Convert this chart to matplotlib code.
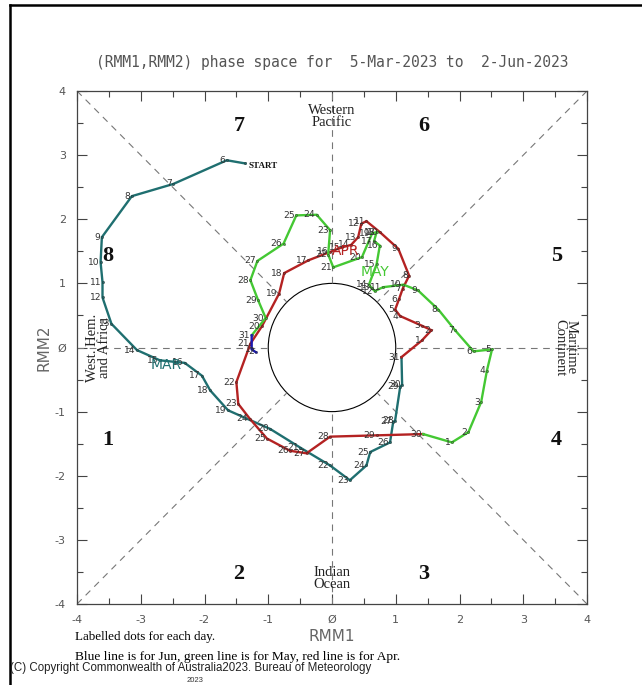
import matplotlib
matplotlib.use("Agg")
import matplotlib.pyplot as plt
from matplotlib.patches import Circle
import numpy as np

# ---- data (RMM1, RMM2) ----
mar_days = list(range(5, 32))
mar_rmm1 = [-1.36, -1.65, -2.49, -3.14, -3.61, -3.63, -3.60, -3.60, -3.46, -3.06,
            -2.70, -2.31, -2.04, -1.91, -1.63, -0.97, -0.50, -0.03, 0.28, 0.54,
            0.60, 0.91, 0.96, 0.99, 1.07, 1.10, 1.09]
mar_rmm2 = [2.87, 2.92, 2.55, 2.36, 1.72, 1.33, 1.02, 0.78, 0.37, -0.04,
            -0.20, -0.24, -0.44, -0.67, -0.98, -1.27, -1.56, -1.84, -2.07, -1.84,
            -1.63, -1.48, -1.16, -1.14, -0.61, -0.58, -0.15]

apr_days = list(range(1, 31))
apr_rmm1 = [1.41, 1.56, 1.41, 1.07, 0.99, 1.05, 1.11, 1.21, 1.04, 0.75,
            0.54, 0.46, 0.41, 0.30, 0.15, -0.03, -0.37, -0.75, -0.83, -1.10,
            -1.28, -1.50, -1.47, -1.29, -1.02, -0.66, -0.40, -0.03, 0.70, 1.43]
apr_rmm2 = [0.11, 0.27, 0.34, 0.49, 0.59, 0.75, 0.92, 1.12, 1.54, 1.80,
            1.97, 1.93, 1.72, 1.60, 1.56, 1.49, 1.36, 1.16, 0.84, 0.33,
            0.06, -0.54, -0.88, -1.11, -1.42, -1.61, -1.65, -1.39, -1.37, -1.35]

may_days = list(range(1, 32))
may_rmm1 = [1.88, 2.14, 2.34, 2.43, 2.51, 2.22, 1.93, 1.67, 1.35, 1.12,
            0.80, 0.67, 0.62, 0.58, 0.70, 0.75, 0.66, 0.70, 0.63, 0.47,
            0.02, -0.06, -0.03, -0.24, -0.56, -0.76, -1.17, -1.28, -1.16, -1.04,
            -1.26]
may_rmm2 = [-1.48, -1.32, -0.85, -0.36, -0.03, -0.06, 0.27, 0.59, 0.89, 0.98,
            0.94, 0.88, 0.93, 0.98, 1.30, 1.59, 1.66, 1.80, 1.78, 1.41,
            1.25, 1.45, 1.83, 2.07, 2.06, 1.62, 1.35, 1.05, 0.74, 0.46,
            0.19]

jun_days = [1, 2]
jun_rmm1 = [-1.26, -1.20]
jun_rmm2 = [-0.03, -0.07]

phase_nums = ["1", "2", "3", "4", "5", "6", "7", "8"]
phase_x = [-3.52, -1.46, 1.44, 3.52, 3.52, 1.44, -1.46, -3.52]
phase_y = [-1.45, -3.53, -3.53, -1.45, 1.43, 3.46, 3.46, 1.43]

ticks = [-4, -3, -2, -1, 0, 1, 2, 3, 4]
tick_labels = ["-4", "-3", "-2", "-1", "\u00d8", "1", "2", "3", "4"]

# ---- colours ----
c_mar = "#1f6f70"
c_apr = "#b42222"
c_may = "#44c833"
c_jun = "#1a1ab0"
grey = "#555555"

fig = plt.figure(figsize=(6.42, 6.85), dpi=100)

# outer frame
fig.add_artist(plt.Line2D([10/642, 10/642], [0, 1-5/685], transform=fig.transFigure,
                          color="black", lw=1.8))
fig.add_artist(plt.Line2D([10/642, 1], [1-5/685, 1-5/685], transform=fig.transFigure,
                          color="black", lw=1.8))

ax = fig.add_axes([77/642, 1-604/685, 510/642, 513/685])
ax.set_xlim(-4, 4)
ax.set_ylim(-4, 4)

# guide lines
dash = dict(color="#777777", lw=0.8, ls=(0, (6, 5)))
r = np.sqrt(0.5)
for sx in (-1, 1):
    for sy in (-1, 1):
        ax.plot([sx*4, sx*r], [sy*4, sy*r], **dash)
ax.plot([-4, -1], [0, 0], **dash)
ax.plot([1, 4], [0, 0], **dash)
ax.plot([0, 0], [-4, -1], **dash)
ax.plot([0, 0], [1, 4], **dash)
ax.add_patch(Circle((0, 0), 1, fill=False, color="black", lw=0.8))

# phase numbers
for t, x, y in zip(phase_nums, phase_x, phase_y):
    ax.text(x, y, t, ha="center", va="center", fontsize=16, fontweight="bold",
            family="Liberation Serif", color="#111111")

serif = dict(family="Liberation Serif", fontsize=10.5, color="#222222",
             ha="center", va="center", linespacing=0.85)
ax.text(0, 3.6, "Western\nPacific", **serif)
ax.text(0, -3.6, "Indian\nOcean", **serif)
ax.text(-3.66, 0, "West. Hem.\nand Africa", rotation=90, **serif)
ax.text(3.66, 0, "Maritime\nContinent", rotation=-90, **serif)

lab = dict(fontsize=6.6, color="#333333", ha="right", va="center",
           textcoords="offset points", xytext=(-1, 0))

def draw(xs, ys, days, color, prev=None, skip_first=False):
    px, py = list(xs), list(ys)
    if prev is not None:
        px = [prev[0]] + px
        py = [prev[1]] + py
    ax.plot(px, py, color=color, lw=1.7, solid_joinstyle="miter")
    ax.plot(xs, ys, "o", color=color, ms=1.6, mec="#222222", mew=0.3)
    for i, (x, y, d) in enumerate(zip(xs, ys, days)):
        if skip_first and i == 0:
            continue
        ax.annotate(str(d), (x, y), **lab)

draw(mar_rmm1, mar_rmm2, mar_days, c_mar, skip_first=True)
draw(apr_rmm1, apr_rmm2, apr_days, c_apr, prev=(mar_rmm1[-1], mar_rmm2[-1]))
draw(may_rmm1, may_rmm2, may_days, c_may, prev=(apr_rmm1[-1], apr_rmm2[-1]))
draw(jun_rmm1, jun_rmm2, jun_days, c_jun, prev=(may_rmm1[-1], may_rmm2[-1]))

ax.annotate("START", (mar_rmm1[0], mar_rmm2[0]), textcoords="offset points",
            xytext=(2, -2), fontsize=6.5, family="Liberation Serif",
            fontweight="bold", ha="left", va="center", color="#111111")

# month labels
ax.text(-2.6, -0.28, "MAR", color=c_mar, fontsize=10, ha="center", va="center")
ax.text(0.22, 1.5, "APR", color=c_apr, fontsize=10, ha="center", va="center")
ax.text(0.67, 1.17, "MAY", color=c_may, fontsize=10, ha="center", va="center")

# axes styling
ax.set_xticks(ticks)
ax.set_yticks(ticks)
ax.set_xticklabels(tick_labels)
ax.set_yticklabels(tick_labels)
ax.set_xticks(np.arange(-4, 4.01, 0.5), minor=True)
ax.set_yticks(np.arange(-4, 4.01, 0.5), minor=True)
ax.tick_params(which="both", direction="in", top=True, right=True,
               color="#444444", width=0.8)
ax.tick_params(which="major", length=7, labelsize=8, labelcolor=grey, pad=8)
ax.tick_params(which="minor", length=4)
for s in ax.spines.values():
    s.set_color("#444444")
    s.set_linewidth(0.9)

ax.set_xlabel("RMM1", fontsize=11, color="#666666", labelpad=3)
ax.set_ylabel("RMM2", fontsize=11, color="#666666", labelpad=2)

fig.text(332/642, 1-62/685,
         "(RMM1,RMM2) phase space for  5-Mar-2023 to  2-Jun-2023",
         ha="center", va="center", fontsize=10.5, color=grey,
         family="DejaVu Sans Mono")

fig.text(75/642, 1-637/685, "Labelled dots for each day.",
         family="Liberation Serif", fontsize=9.4, ha="left", va="center")
fig.text(75/642, 1-657/685,
         "Blue line is for Jun, green line is for May, red line is for Apr.",
         family="Liberation Serif", fontsize=9.6, ha="left", va="center")
fig.text(10/642, 1-668/685,
         "(C) Copyright Commonwealth of Australia2023. Bureau of Meteorology",
         family="Liberation Sans", fontsize=8.3, ha="left", va="center",
         color="#222222")
fig.text(195/642, 1-680/685, "2023", family="Liberation Sans", fontsize=5.5,
         ha="center", va="center", color="#333333")

fig.savefig("out.png", dpi=100)
